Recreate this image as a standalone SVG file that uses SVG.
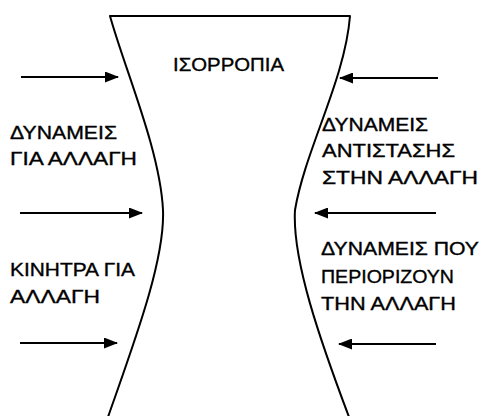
<svg xmlns="http://www.w3.org/2000/svg" width="482" height="416" viewBox="0 0 482 416">
<style>
.t{font-family:"Liberation Sans",Arial,sans-serif;font-size:18px;fill:#000;stroke:#000;stroke-width:0.35}
.c{stroke:#000;stroke-width:2.2;fill:none}
.o{stroke:#000;stroke-width:2;fill:#fff;stroke-linejoin:round}
</style>
<defs>
<marker id="ah" markerUnits="userSpaceOnUse" markerWidth="14" markerHeight="11" refX="13" refY="5.5" orient="auto">
<path d="M0,0 L14,5.5 L0,11 z" fill="#000"/>
</marker>
</defs>
<rect width="482" height="416" fill="#fff"/>
<g id="equilibrium">
<path class="o" d="M108,417 C135,340 165,260 163,210 C160,150 125,70 110,16 L350,16 C345,80 305,150 295,210 C292,260 320,340 349,417"/>
<text class="t" x="173" y="71" font-size="15.5" textLength="111" lengthAdjust="spacingAndGlyphs">ΙΣΟΡΡΟΠΙΑ</text>
</g>
<g id="forces-for-change">
<text class="t" x="10" y="139" textLength="107" lengthAdjust="spacingAndGlyphs">ΔΥΝΑΜΕΙΣ</text>
<text class="t" x="10" y="165" textLength="127" lengthAdjust="spacingAndGlyphs">ΓΙΑ ΑΛΛΑΓΗ</text>
</g>
<g id="incentives-for-change">
<text class="t" x="10" y="276" textLength="125" lengthAdjust="spacingAndGlyphs">ΚΙΝΗΤΡΑ ΓΙΑ</text>
<text class="t" x="10" y="303" textLength="90" lengthAdjust="spacingAndGlyphs">ΑΛΛΑΓΗ</text>
</g>
<g id="resistance-forces">
<text class="t" x="322" y="131" textLength="106" lengthAdjust="spacingAndGlyphs">ΔΥΝΑΜΕΙΣ</text>
<text class="t" x="322" y="157" textLength="133" lengthAdjust="spacingAndGlyphs">ΑΝΤΙΣΤΑΣΗΣ</text>
<text class="t" x="322" y="184" textLength="156" lengthAdjust="spacingAndGlyphs">ΣΤΗΝ ΑΛΛΑΓΗ</text>
</g>
<g id="limiting-forces">
<text class="t" x="321" y="255" textLength="158" lengthAdjust="spacingAndGlyphs">ΔΥΝΑΜΕΙΣ ΠΟΥ</text>
<text class="t" x="321" y="283" textLength="133" lengthAdjust="spacingAndGlyphs">ΠΕΡΙΟΡΙΖΟΥΝ</text>
<text class="t" x="321" y="310" textLength="135" lengthAdjust="spacingAndGlyphs">ΤΗΝ ΑΛΛΑΓΗ</text>
</g>
<g id="connectors">
<line class="c" x1="21" y1="77" x2="118" y2="77" marker-end="url(#ah)"/>
<line class="c" x1="20" y1="213" x2="142" y2="213" marker-end="url(#ah)"/>
<line class="c" x1="20" y1="343" x2="117" y2="343" marker-end="url(#ah)"/>
<line class="c" x1="438" y1="78" x2="340" y2="78" marker-end="url(#ah)"/>
<line class="c" x1="436" y1="213" x2="315" y2="213" marker-end="url(#ah)"/>
<line class="c" x1="436" y1="344" x2="339" y2="344" marker-end="url(#ah)"/>
</g>
</svg>
